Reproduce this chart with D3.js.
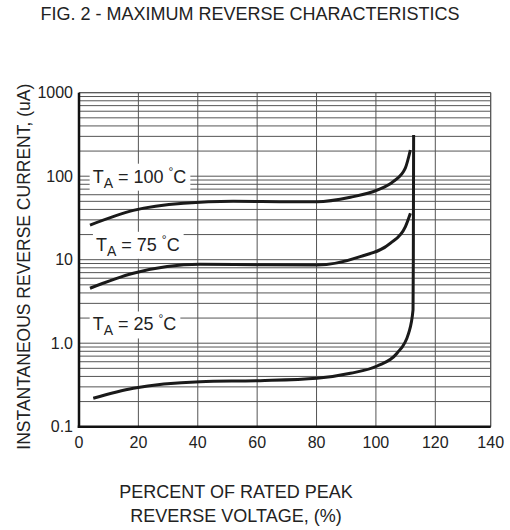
<!DOCTYPE html>
<html>
<head>
<meta charset="utf-8">
<script src="https://cdn.jsdelivr.net/npm/d3@7"></script>
<style>
  html, body { margin: 0; padding: 0; background: #fff; }
  svg { display: block; }
  .t { font-family: "Liberation Sans", Arial, sans-serif; fill: #222; }
  .tick { font-family: "Liberation Sans Narrow", "Arial Narrow", "Liberation Sans", sans-serif; fill: #222; font-size: 16px; }
</style>
</head>
<body>
<svg id="chart" width="510" height="530"></svg>
<script>
// ---- data ----
const titleText = "FIG. 2 - MAXIMUM REVERSE CHARACTERISTICS";
const yTitle = "INSTANTANEOUS REVERSE CURRENT, (uA)";
const xTitleLines = ["PERCENT OF RATED PEAK", "REVERSE VOLTAGE, (%)"];

const xTicks = [0, 20, 40, 60, 80, 100, 120, 140];
const yTickValues = [0.1, 1, 10, 100, 1000];
const yTickLabels = ["0.1", "1.0", "10", "100", "1000"];

// 100 °C curve
const t100X = [3.7, 18.3, 35.2, 51.9, 68.8, 80.1, 91.4, 100.4, 105.8, 109.9, 111.6];
const t100Y = [26, 39, 47.5, 50, 49.5, 49.5, 56, 68, 86, 125, 206];
// 75 °C curve
const t75X = [3.7, 18.3, 40.8, 61, 80.1, 94.7, 104.8, 109.9, 111.6];
const t75Y = [4.55, 6.87, 8.8, 8.7, 8.64, 10.9, 15.7, 24.8, 35.9];
// 25 °C curve (rises to breakdown)
const t25X = [4.8, 18.3, 40.8, 61, 80.1, 91.4, 100.4, 107.1, 111.0, 112.5, 112.6, 112.7];
const t25Y = [0.219, 0.288, 0.346, 0.356, 0.38, 0.436, 0.533, 0.757, 1.31, 2.5, 10, 311];

const labelTemps = ["100", "75", "25"];
const labelX = [4.6, 5.7, 4.6];
const labelY = [100, 15.3, 1.7];

// ---- drawing ----
const svg = d3.select("#chart");
const pL = 79, pR = 490.7, pT = 92.7, pB = 426.7;

const x = d3.scaleLinear().domain([0, 120, 140]).range([pL, 435.3, pR]);
const y = d3.scaleLog().domain([0.1, 1000]).range([pB, pT]);

// grid
const grid = svg.append("g").attr("stroke", "#555").attr("stroke-width", 1);
grid.selectAll("line.h").data(y.ticks()).join("line")
  .attr("class", "h")
  .attr("x1", pL).attr("x2", pR)
  .attr("y1", d => y(d)).attr("y2", d => y(d));
grid.selectAll("line.v").data(xTicks).join("line")
  .attr("class", "v")
  .attr("x1", d => x(d)).attr("x2", d => x(d))
  .attr("y1", pT).attr("y2", pB);

// labels with white background
const labels = svg.append("g");
labelTemps.forEach((t, i) => {
  const g = labels.append("g");
  const bx = x(labelX[i]);
  const by = y(labelY[i]) + 6.5;
  const rect = g.append("rect").attr("fill", "#fff");
  const txt = g.append("text").attr("class", "t")
    .attr("x", bx).attr("y", by).attr("font-size", 18);
  txt.append("tspan").text("T");
  txt.append("tspan").attr("font-size", 14).attr("dy", 5).text("A");
  txt.append("tspan").attr("dy", -5).text(" = " + t + " ");
  txt.append("tspan").attr("font-size", 12).attr("dy", -7).text("°");
  txt.append("tspan").attr("dy", 7).text("C");
  const bb = txt.node().getBBox();
  rect.attr("x", bb.x - 3).attr("y", bb.y - 1)
    .attr("width", bb.width + 7).attr("height", bb.height + 1);
});

// curves
const line = d3.line().x(d => x(d[0])).y(d => y(d[1])).curve(d3.curveMonotoneX);
const curves = [
  d3.zip(t100X, t100Y),
  d3.zip(t75X, t75Y),
  d3.zip(t25X, t25Y)
];
svg.append("g").selectAll("path").data(curves).join("path")
  .attr("d", line)
  .attr("fill", "none")
  .attr("stroke", "#1a1a1a")
  .attr("stroke-width", 3)
  .attr("stroke-linecap", "butt");

// frame
svg.append("line").attr("x1", pL).attr("x2", pR).attr("y1", pT).attr("y2", pT)
  .attr("stroke", "#555").attr("stroke-width", 1);
svg.append("line").attr("x1", pR).attr("x2", pR).attr("y1", pT).attr("y2", pB)
  .attr("stroke", "#555").attr("stroke-width", 1);
svg.append("line").attr("x1", pL).attr("x2", pL).attr("y1", pT).attr("y2", pB + 1.25)
  .attr("stroke", "#111").attr("stroke-width", 2.5);
svg.append("line").attr("x1", pL - 1.25).attr("x2", pR).attr("y1", pB).attr("y2", pB)
  .attr("stroke", "#111").attr("stroke-width", 2.5);

// tick labels
svg.append("g").selectAll("text").data(yTickValues).join("text")
  .attr("class", "tick")
  .attr("x", pL - 6).attr("y", d => y(d))
  .attr("dy", "0.36em")
  .attr("text-anchor", "end")
  .text((d, i) => yTickLabels[i]);
svg.append("g").selectAll("text").data(xTicks).join("text")
  .attr("class", "tick")
  .attr("x", d => x(d)).attr("y", pB + 21)
  .attr("text-anchor", "middle")
  .text(d => d);

// titles
svg.append("text").attr("class", "t").attr("font-size", 18)
  .attr("x", 250).attr("y", 20).attr("text-anchor", "middle").text(titleText);
svg.append("text").attr("class", "t").attr("font-size", 17.5)
  .attr("transform", "translate(30,266.7) rotate(-90)")
  .attr("text-anchor", "middle").text(yTitle);
svg.append("g").selectAll("text").data(xTitleLines).join("text")
  .attr("class", "t").attr("font-size", 18)
  .attr("x", 236).attr("y", (d, i) => 498 + i * 23.5)
  .attr("text-anchor", "middle").text(d => d);
</script>
</body>
</html>
